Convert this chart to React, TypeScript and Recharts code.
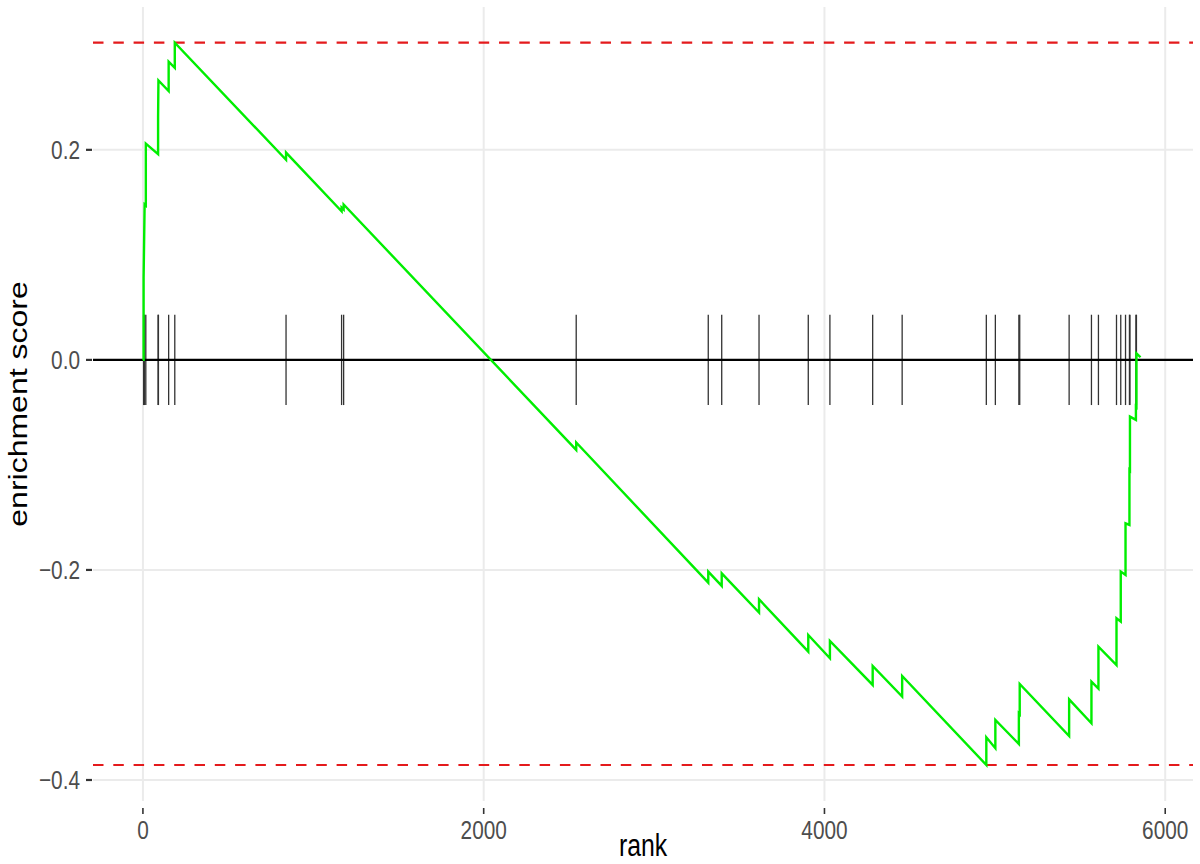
import {
  ComposedChart,
  Line,
  XAxis,
  YAxis,
  ReferenceLine,
  Label
} from "recharts";

// running enrichment score, vertices (rank, score)
const esRank = [
  0, 4, 4, 10, 17, 17, 89, 89, 91, 151, 151, 187, 187,
  840, 840, 1166, 1166, 1178, 1178, 2543, 2543,
  3318, 3318, 3397, 3397, 3616, 3616, 3905, 3905, 4032, 4032,
  4283, 4283, 4456, 4456, 4950, 4950, 5003, 5003,
  5141, 5141, 5146, 5146, 5436, 5436, 5567, 5567, 5608, 5608,
  5714, 5714, 5739, 5739, 5767, 5767, 5790, 5790, 5793, 5793,
  5828, 5828, 5831, 5831, 5855
];
const esScore = [
  0, 0, 0.078, 0.148, 0.147, 0.206, 0.196, 0.231, 0.266, 0.256, 0.284, 0.278, 0.302,
  0.1905, 0.1974, 0.1415, 0.145, 0.1432, 0.148, -0.0857, -0.0787,
  -0.2121, -0.2016, -0.2152, -0.2032, -0.2406, -0.2279, -0.2778, -0.2619, -0.2841, -0.2676,
  -0.3095, -0.2914, -0.3206, -0.301, -0.3857, -0.3594, -0.3698, -0.3429,
  -0.3657, -0.3365, -0.3374, -0.3086, -0.3581, -0.3232, -0.346, -0.3063, -0.313, -0.273,
  -0.2905, -0.246, -0.2492, -0.2016, -0.2048, -0.1556, -0.1571, -0.1048, -0.1053, -0.054,
  -0.0571, -0.0444, -0.0449, 0.0063, 0.0025
];

// positions of the gene set members in the ranked list
const hitRanks = [
  4, 10, 17, 89, 91, 151, 187, 840, 1166, 1178, 2543,
  3318, 3397, 3616, 3905, 4032, 4283, 4456, 4950, 5003,
  5141, 5146, 5436, 5567, 5608, 5714, 5739, 5767, 5790, 5793, 5828, 5831
];

const maxES = 0.302;
const minES = -0.3857;
const rugHalf = 0.043;

const xTicks = [0, 2000, 4000, 6000];
const yTicks = [-0.4, -0.2, 0, 0.2];

const data = esRank.map((r, i) => ({ rank: r, es: esScore[i] }));

const FONT = '"Liberation Sans", Arial, sans-serif';

function XTick(props: any) {
  const { x, y, payload } = props;
  return (
    <g>
      <line x1={x} x2={x} y1={y + 7} y2={y + 13} stroke="#333" strokeWidth={1.6} />
      <text
        transform={`translate(${x},${y + 38}) scale(0.8,1)`}
        textAnchor="middle"
        fontSize={26}
        fill="#4d4d4d"
        fontFamily={FONT}
      >
        {payload.value}
      </text>
    </g>
  );
}

function YTick(props: any) {
  const { x, y, payload } = props;
  const txt = Number(payload.value).toFixed(1).replace("-", "\u2212");
  return (
    <g>
      <line x1={x - 7} x2={x - 1} y1={y} y2={y} stroke="#333" strokeWidth={2.2} />
      <text
        transform={`translate(${x - 13},${y}) scale(0.8,1)`}
        textAnchor="end"
        dominantBaseline="central"
        fontSize={26}
        fill="#4d4d4d"
        fontFamily={FONT}
      >
        {txt}
      </text>
    </g>
  );
}

function XTitle(props: any) {
  const vb = props.viewBox;
  return (
    <text
      transform={`translate(${vb.x + vb.width / 2},${vb.y + 55}) scale(0.8,1)`}
      textAnchor="middle"
      fontSize={31}
      fill="#000"
      fontFamily={FONT}
    >
      rank
    </text>
  );
}

function YTitle(props: any) {
  const vb = props.viewBox;
  return (
    <text
      transform={`translate(18,${vb.y + vb.height / 2}) scale(0.8,1) rotate(-90)`}
      textAnchor="middle"
      dominantBaseline="central"
      fontSize={32}
      fill="#000"
      fontFamily={FONT}
    >
      enrichment score
    </text>
  );
}

export default function App() {
  return (
    <div style={{ position: "absolute", left: 0, top: 0, width: 1200, height: 864, background: "#fff" }}>
      <ComposedChart
        width={1200}
        height={864}
        data={data}
        margin={{ top: 7, right: 7, bottom: 0, left: 0 }}
      >
        <XAxis
          dataKey="rank"
          type="number"
          domain={[-293, 6163]}
          allowDataOverflow
          ticks={xTicks}
          height={63}
          axisLine={false}
          tickLine={false}
          tickSize={0}
          tickMargin={0}
          tick={<XTick />}
          interval={0}
        >
          <Label content={<XTitle />} />
        </XAxis>
        <YAxis
          type="number"
          domain={[-0.42, 0.336]}
          allowDataOverflow
          ticks={yTicks}
          width={93}
          axisLine={false}
          tickLine={false}
          tickSize={0}
          tickMargin={0}
          tick={<YTick />}
          interval={0}
        >
          <Label content={<YTitle />} />
        </YAxis>
        {xTicks.map((t) => (
          <ReferenceLine key={"gx" + t} x={t} stroke="#ebebeb" strokeWidth={2} />
        ))}
        {yTicks.map((t) => (
          <ReferenceLine key={"gy" + t} y={t} stroke="#ebebeb" strokeWidth={2} />
        ))}
        {hitRanks.map((r, i) => (
          <ReferenceLine
            key={"hit" + i}
            segment={[
              { x: r, y: -rugHalf },
              { x: r, y: rugHalf }
            ]}
            stroke="#333"
            strokeWidth={1.3}
          />
        ))}
        <ReferenceLine y={0} stroke="#000" strokeWidth={2.2} />
        <ReferenceLine y={maxES} stroke="#e41a1c" strokeWidth={2.2} strokeDasharray="10.5 9.8" />
        <ReferenceLine y={minES} stroke="#e41a1c" strokeWidth={2.2} strokeDasharray="10.5 9.8" />
        <Line
          dataKey="es"
          type="linear"
          dot={false}
          activeDot={false}
          stroke="#00ee00"
          strokeWidth={2.4}
          isAnimationActive={false}
        />
      </ComposedChart>
    </div>
  );
}
